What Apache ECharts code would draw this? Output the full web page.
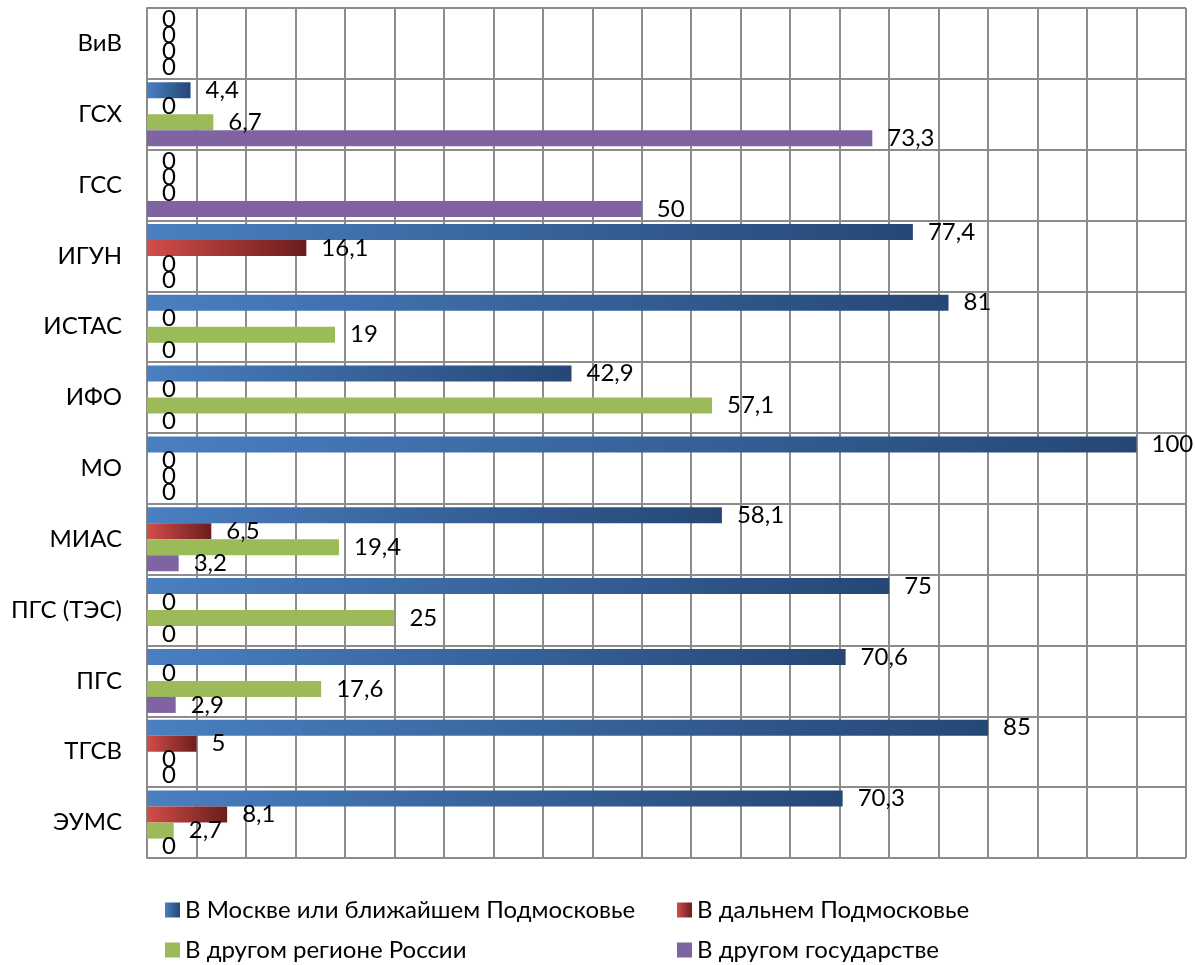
<!DOCTYPE html>
<html>
<head>
<meta charset="utf-8">
<script src="https://cdn.jsdelivr.net/npm/echarts@6/dist/echarts.min.js"></script>
<style>
  html, body { margin: 0; padding: 0; background: #fff; }
  #chart { width: 1195px; height: 965px; }
</style>
</head>
<body>
<div id="chart"></div>
<script>
const categories = ['ВиВ', 'ГСХ', 'ГСС', 'ИГУН', 'ИСТАС', 'ИФО', 'МО', 'МИАС', 'ПГС (ТЭС)', 'ПГС', 'ТГСВ', 'ЭУМС'];
const seriesNames = ['В Москве или ближайшем Подмосковье', 'В дальнем Подмосковье', 'В другом регионе России', 'В другом государстве'];
const moscow = [0, 4.4, 0, 77.4, 81, 42.9, 100, 58.1, 75, 70.6, 85, 70.3];
const farRegion = [0, 0, 0, 16.1, 0, 0, 0, 6.5, 0, 0, 5, 8.1];
const otherRegion = [0, 6.7, 0, 0, 19, 57.1, 0, 19.4, 25, 17.6, 0, 2.7];
const abroad = [0, 73.3, 50, 0, 0, 0, 0, 3.2, 0, 2.9, 0, 0];

const FONT = 'Lato, "Open Sans", "Noto Sans", sans-serif';
const FS = 24;

const chart = echarts.init(document.getElementById('chart'));

function grad(c1, c2) {
  return new echarts.graphic.LinearGradient(0, 0, 1, 0, [
    { offset: 0, color: c1 },
    { offset: 1, color: c2 }
  ]);
}

const colors = [
  grad('#4a7fc1', '#254775'),
  grad('#d24d4a', '#6b1d1d'),
  '#9bbb59',
  '#8064a2'
];

function makeSeries(i, data) {
  return {
    name: seriesNames[i],
    type: 'bar',
    data: data,
    barWidth: 16,
    barGap: '0%',
    itemStyle: { color: colors[i] },
    label: {
      show: true,
      position: 'right',
      distance: 15,
      color: '#000',
      fontSize: FS,
      fontFamily: FONT,
      formatter: p => String(p.value).replace('.', ',')
    }
  };
}

const legendText = { fontSize: FS, fontFamily: FONT, color: '#000' };

function legendAt(i, left, top) {
  return {
    data: [seriesNames[i]], left: left, top: top,
    itemWidth: 15, itemHeight: 15, itemGap: 6,
    icon: 'rect', textStyle: legendText
  };
}

const option = {
  animation: false,
  backgroundColor: '#fff',
  grid: { left: 147, right: 9, top: 8, bottom: 107 },
  legend: [
    legendAt(0, 160, 893),
    legendAt(1, 672, 893),
    legendAt(2, 160, 933),
    legendAt(3, 672, 933)
  ],
  xAxis: {
    type: 'value',
    min: 0,
    max: 105,
    interval: 5,
    axisLabel: { show: false },
    axisTick: { show: false },
    axisLine: { show: false },
    splitLine: { lineStyle: { color: '#8c8c8c', width: 2 } }
  },
  yAxis: {
    type: 'category',
    inverse: true,
    data: categories,
    axisTick: { show: false },
    axisLine: { lineStyle: { color: '#8c8c8c', width: 2 } },
    axisLabel: { color: '#000', fontSize: FS, fontFamily: FONT, margin: 25 },
    splitLine: { show: true, lineStyle: { color: '#8c8c8c', width: 2 } }
  },
  series: [
    makeSeries(0, moscow),
    makeSeries(1, farRegion),
    makeSeries(2, otherRegion),
    makeSeries(3, abroad)
  ]
};

chart.setOption(option);
</script>
</body>
</html>
